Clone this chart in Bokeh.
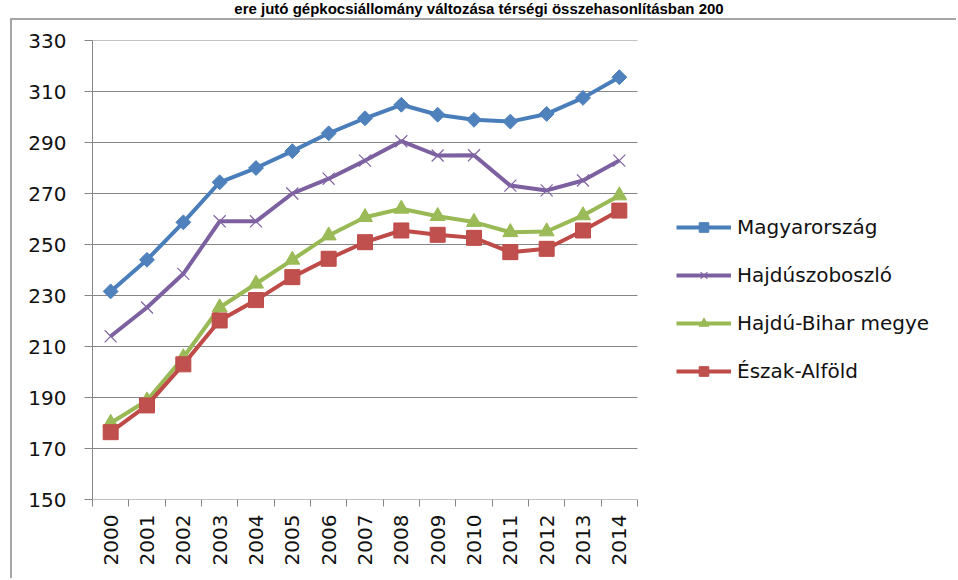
from math import pi
from bokeh.plotting import figure
from bokeh.models import FixedTicker, Legend, LegendItem, Range1d, Div, InlineStyleSheet
from bokeh.layouts import column
from bokeh.embed import file_html
from bokeh.resources import INLINE

# ---- data ----
years = [2000, 2001, 2002, 2003, 2004, 2005, 2006, 2007, 2008, 2009, 2010, 2011, 2012, 2013, 2014]
magyarorszag = [231.6, 244.0, 258.7, 274.4, 280.0, 286.6, 293.6, 299.5, 304.8, 300.9, 298.9, 298.2, 301.2, 307.5, 315.6]
hajduszoboszlo = [214.0, 225.3, 238.5, 259.1, 259.1, 270.0, 275.8, 282.9, 290.5, 284.9, 285.0, 273.1, 271.2, 275.1, 282.9]
hajdu_bihar = [180.0, 188.8, 205.7, 225.3, 234.6, 244.0, 253.5, 260.7, 264.0, 261.1, 258.8, 254.8, 255.1, 261.4, 269.2]
eszak_alfold = [176.4, 186.9, 203.0, 220.2, 228.2, 237.2, 244.4, 250.9, 255.5, 253.8, 252.6, 247.0, 248.3, 255.5, 263.3]
y_ticks = [150, 170, 190, 210, 230, 250, 270, 290, 310, 330]
series_names = ["Magyarország", "Hajdúszoboszló", "Hajdú-Bihar megye", "Észak-Alföld"]
title_text = "ere jutó gépkocsiállomány változása térségi összehasonlításban 200"

FONT = "DejaVu Sans"
GRID = "#868686"

# layout geometry (pixels)
W, H = 946, 560
LEFT, TOP, BOTTOM = 80, 20, 81
PLOT_W = 545                      # width of the category area
FRAME_W = W - LEFT                # frame continues to the right edge (room for the legend)
x_start = years[0] - 0.5
x_end_cat = years[-1] + 0.5
x_end = x_start + (x_end_cat - x_start) * FRAME_W / PLOT_W

title_div = Div(text=title_text, width=958, height=18, margin=0,
                styles={"font-family": "Liberation Sans", "font-weight": "bold",
                        "font-size": "15px", "line-height": "18px",
                        "text-align": "center", "color": "black", "white-space": "nowrap"})

p = figure(width=W, height=H, output_backend="svg", toolbar_location=None,
           x_range=Range1d(x_start, x_end),
           y_range=Range1d(y_ticks[0], y_ticks[-1]),
           min_border_left=LEFT, min_border_right=0, min_border_top=TOP, min_border_bottom=BOTTOM,
           margin=0)
p.stylesheets = [InlineStyleSheet(css=":host { border-left: 2px solid #A6A6A6; border-top: 2px solid #A6A6A6; margin-left: 10px; }")]
p.outline_line_color = None
p.background_fill_color = "white"
p.border_fill_color = "white"

# axes
p.xaxis.ticker = FixedTicker(ticks=years, minor_ticks=[y - 0.5 for y in years] + [x_end_cat])
p.xaxis.major_tick_out = 0
p.xaxis.major_tick_in = 0
p.xaxis.minor_tick_out = 7
p.xaxis.minor_tick_in = 0
p.xaxis.minor_tick_line_color = GRID
p.xaxis.major_label_orientation = pi / 2
p.xaxis.major_label_standoff = 8
p.xaxis.axis_line_color = None
p.xaxis.major_label_text_font = FONT
p.xaxis.major_label_text_font_size = "20px"
p.xaxis.major_label_text_color = "#111111"

p.yaxis.ticker = FixedTicker(ticks=y_ticks)
p.yaxis.major_tick_out = 8
p.yaxis.major_tick_in = 0
p.yaxis.minor_tick_line_color = None
p.yaxis.major_tick_line_color = GRID
p.yaxis.axis_line_color = GRID
p.yaxis.major_label_standoff = 18
p.yaxis.major_label_text_font = FONT
p.yaxis.major_label_text_font_size = "20px"
p.yaxis.major_label_text_color = "#111111"

p.xgrid.visible = False
p.ygrid.visible = False

# horizontal grid lines, only across the category area
p.segment(x0=[x_start] * len(y_ticks), x1=[x_end_cat] * len(y_ticks), y0=y_ticks, y1=y_ticks,
          line_color=GRID, line_width=1)

# series
l1 = p.line(years, magyarorszag, line_color="#4A7EBB", line_width=4)
m1 = p.scatter(years, magyarorszag, marker="square", angle=pi / 4, size=10.5,
               fill_color="#4F81BD", line_color="#4A7EBB")
l2 = p.line(years, hajduszoboszlo, line_color="#7D60A0", line_width=4)
m2 = p.scatter(years, hajduszoboszlo, marker="x", size=17, line_color="#8064A2", line_width=1.2)
l3 = p.line(years, hajdu_bihar, line_color="#98B954", line_width=4)
m3 = p.scatter(years, hajdu_bihar, marker="triangle", size=15, fill_color="#9BBB59", line_color="#98B954")
l4 = p.line(years, eszak_alfold, line_color="#BE4B48", line_width=4)
m4 = p.scatter(years, eszak_alfold, marker="square", size=15, fill_color="#C0504D", line_color="#BE4B48")

legend = Legend(items=[LegendItem(label=series_names[0], renderers=[l1, m1]),
                       LegendItem(label=series_names[1], renderers=[l2, m2]),
                       LegendItem(label=series_names[2], renderers=[l3, m3]),
                       LegendItem(label=series_names[3], renderers=[l4, m4])],
                location=(584, 116), orientation="vertical")
legend.border_line_color = None
legend.background_fill_alpha = 0
legend.padding = 0
legend.margin = 0
legend.glyph_width = 55
legend.glyph_height = 24
legend.label_height = 24
legend.spacing = 24
legend.label_standoff = 6
legend.label_text_font = FONT
legend.label_text_font_size = "20px"
legend.label_text_color = "#111111"
p.add_layout(legend, "center")

layout = column(title_div, p, spacing=0, margin=0)

open("out.html", "w").write(file_html(layout, INLINE))
